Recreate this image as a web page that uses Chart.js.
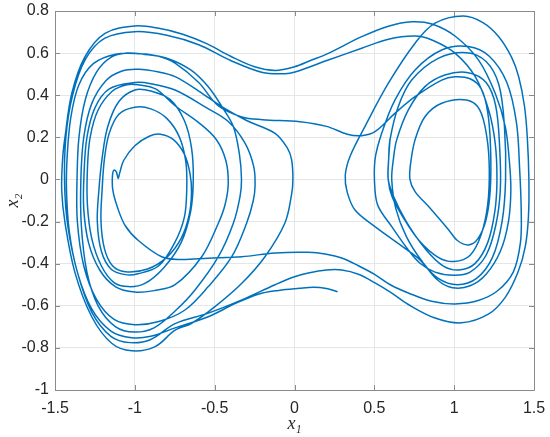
<!DOCTYPE html>
<html>
<head>
<meta charset="utf-8">
<script src="https://cdn.jsdelivr.net/npm/chart.js@4.4.1/dist/chart.umd.min.js"></script>
<style>
  html, body { margin: 0; padding: 0; background: #fff; }
  #wrap { width: 550px; height: 437px; }
</style>
</head>
<body>
<div id="wrap"><canvas id="phase"></canvas></div>
<script>
// phase portrait x1 / x2, in trajectory order
let xTicks = [-1.5, -1, -0.5, 0, 0.5, 1, 1.5];
let yTicks = [-1, -0.8, -0.6, -0.4, -0.2, 0, 0.2, 0.4, 0.6, 0.8];

// start of the curve (0.27,-0.53), first swing round the left well
let startTail = [[0.27,-0.533],[0.2,-0.518],[0.12,-0.512],[0.03,-0.517],[-0.1,-0.527],[-0.227,-0.545],[-0.373,-0.59],[-0.54,-0.652],[-0.748,-0.705],[-0.9,-0.745],[-1.02,-0.752],[-1.15,-0.72],[-1.27,-0.615],[-1.36,-0.44],[-1.41,-0.25],[-1.428,-0.05],[-1.423,0.12],[-1.4,0.3],[-1.35,0.45],[-1.26,0.55],[-1.12,0.595],[-0.967,0.597]];
// crossing to the right well at x2 ~ 0.28
let midBand = [[-0.85,0.585],[-0.748,0.552],[-0.6,0.46],[-0.478,0.35],[-0.33,0.297],[-0.2,0.284],[0.034,0.274],[0.2,0.252],[0.33,0.215],[0.42,0.208],[0.504,0.227],[0.629,0.314],[0.755,0.393],[0.922,0.472],[1.005,0.488]];
// loops in the right well
let rightSpiral = [[1.1,0.478],[1.17,0.43],[1.21,0.32],[1.228,0.15],[1.226,-0.05],[1.2,-0.19],[1.15,-0.28],[1.09,-0.311],[1.02,-0.29],[0.966,-0.24],[0.84,-0.129],[0.755,-0.058],[0.723,0.0],[0.728,0.08],[0.755,0.188],[0.817,0.298],[0.922,0.362],[1.078,0.377],[1.16,0.33],[1.205,0.2],[1.22,0.05],[1.21,-0.12],[1.17,-0.26],[1.1,-0.36],[1.0,-0.39],[0.9,-0.37],[0.78,-0.29],[0.68,-0.18],[0.61,-0.08],[0.587,0.0],[0.59,0.1],[0.598,0.188],[0.65,0.346],[0.734,0.472],[0.9,0.575],[1.078,0.602],[1.2,0.56],[1.28,0.45],[1.315,0.25],[1.322,0.0],[1.3,-0.2],[1.24,-0.37],[1.14,-0.47],[1.02,-0.5],[0.9,-0.47],[0.8,-0.39],[0.7,-0.27],[0.635,-0.14],[0.609,0.0],[0.62,0.1],[0.64,0.188],[0.713,0.33],[0.817,0.441],[0.942,0.496],[1.088,0.507],[1.2,0.46],[1.26,0.35],[1.285,0.15],[1.289,-0.05],[1.26,-0.22],[1.2,-0.36],[1.1,-0.44],[1.0,-0.455],[0.88,-0.44],[0.786,-0.398],[0.713,-0.335],[0.609,-0.224],[0.525,-0.129],[0.504,-0.05],[0.504,0.093],[0.546,0.219],[0.629,0.377],[0.755,0.52],[0.922,0.615],[1.088,0.631],[1.22,0.585],[1.33,0.46],[1.39,0.27],[1.41,0.05],[1.42,-0.15],[1.415,-0.3],[1.37,-0.44],[1.27,-0.53],[1.15,-0.575],[1.005,-0.591]];
// back to the left along x2 ~ -0.36, small hook near (-1.1, 0)
let returnLow = [[0.859,-0.578],[0.713,-0.539],[0.6,-0.5],[0.504,-0.452],[0.4,-0.41],[0.296,-0.373],[0.2,-0.355],[0.086,-0.346],[-0.122,-0.349],[-0.33,-0.367],[-0.54,-0.374],[-0.72,-0.38],[-0.832,-0.367],[-0.978,-0.29],[-1.06,-0.22],[-1.11,-0.13],[-1.138,-0.05],[-1.14,0.02],[-1.13,0.045],[-1.115,0.035],[-1.105,0.005]];
// growing loops in the left well
let leftSpiral = [[-1.095,0.03],[-1.07,0.09],[-1.0,0.16],[-0.91,0.205],[-0.84,0.215],[-0.76,0.19],[-0.69,0.12],[-0.655,0.03],[-0.645,-0.06],[-0.66,-0.17],[-0.71,-0.28],[-0.8,-0.37],[-0.92,-0.425],[-1.06,-0.438],[-1.14,-0.41],[-1.19,-0.33],[-1.212,-0.2],[-1.205,-0.05],[-1.19,0.1],[-1.16,0.22],[-1.1,0.31],[-1.0,0.343],
  [-0.9,0.335],[-0.8,0.29],[-0.72,0.2],[-0.68,0.08],[-0.675,-0.05],[-0.69,-0.18],[-0.75,-0.3],[-0.85,-0.41],[-0.98,-0.448],[-1.06,-0.452],[-1.15,-0.425],[-1.21,-0.34],[-1.235,-0.2],[-1.225,-0.05],[-1.205,0.1],[-1.17,0.25],[-1.1,0.37],[-1.0,0.425],
  [-0.9,0.42],[-0.78,0.38],[-0.69,0.28],[-0.645,0.15],[-0.634,0.0],[-0.65,-0.15],[-0.71,-0.3],[-0.82,-0.42],[-0.94,-0.495],[-1.04,-0.509],[-1.13,-0.49],[-1.21,-0.41],[-1.27,-0.28],[-1.297,-0.12],[-1.297,0.05],[-1.28,0.2],[-1.23,0.33],[-1.14,0.42],[-1.05,0.45],[-0.98,0.45],
  [-0.87,0.43],[-0.748,0.35],[-0.6,0.27],[-0.49,0.19],[-0.43,0.09],[-0.415,-0.02],[-0.435,-0.12],[-0.477,-0.208],[-0.581,-0.367],[-0.748,-0.5],[-0.88,-0.528],[-1.0,-0.535],[-1.12,-0.51],[-1.22,-0.43],[-1.29,-0.3],[-1.32,-0.14],[-1.318,0.03],[-1.3,0.2],[-1.25,0.34],[-1.16,0.43],[-1.0,0.46],
  [-0.9,0.455],[-0.748,0.425],[-0.55,0.34],[-0.415,0.275],[-0.31,0.172],[-0.255,0.06],[-0.247,-0.03],[-0.258,-0.1],[-0.3,-0.208],[-0.393,-0.367],[-0.54,-0.509],[-0.686,-0.62],[-0.85,-0.675],[-1.0,-0.69],[-1.13,-0.665],[-1.24,-0.57],[-1.32,-0.41],[-1.36,-0.2],[-1.362,0.0],[-1.35,0.2],[-1.31,0.38],[-1.24,0.51],[-1.15,0.58],[-1.05,0.6],
  [-0.95,0.595],[-0.8,0.576],[-0.65,0.52],[-0.54,0.44],[-0.45,0.34],[-0.383,0.251],[-0.345,0.12],[-0.332,0.0],[-0.341,-0.08],[-0.383,-0.208],[-0.477,-0.367],[-0.623,-0.525],[-0.748,-0.625],[-0.88,-0.705],[-1.0,-0.725],[-1.12,-0.7],[-1.23,-0.6],[-1.3,-0.44],[-1.335,-0.22],[-1.338,0.0],[-1.32,0.2],[-1.27,0.36],[-1.18,0.47],[-1.08,0.515],[-0.978,0.523],
  [-0.85,0.51],[-0.748,0.488],[-0.6,0.42],[-0.456,0.346],[-0.3,0.28],[-0.122,0.219],[-0.045,0.15],[-0.018,0.093],[-0.01,0.0],[-0.018,-0.07],[-0.06,-0.207],[-0.185,-0.367],[-0.33,-0.493],[-0.498,-0.604],[-0.644,-0.683],[-0.748,-0.716],[-0.873,-0.794],[-1.019,-0.814],[-1.145,-0.778],[-1.27,-0.652],[-1.374,-0.445],[-1.437,-0.208],[-1.458,-0.05],[-1.452,0.1],[-1.437,0.203],[-1.395,0.409],[-1.312,0.583],[-1.187,0.694],[-0.999,0.729]];
// upper crossing to the right, then the widest right loop
let highBand = [[-0.85,0.718],[-0.7,0.69],[-0.55,0.645],[-0.4,0.585],[-0.25,0.535],[-0.12,0.518],[0.0,0.535],[0.1,0.565],[0.212,0.599],[0.421,0.678],[0.588,0.728],[0.736,0.749],[0.861,0.738],[1.007,0.68],[1.153,0.567],[1.257,0.409],[1.32,0.251],[1.345,0.093],[1.355,-0.05],[1.34,-0.2],[1.29,-0.34],[1.2,-0.45],[1.1,-0.505],[0.99,-0.514],[0.9,-0.48],[0.786,-0.382],[0.692,-0.327],[0.504,-0.224],[0.379,-0.145],[0.33,-0.06],[0.318,0.02],[0.347,0.108],[0.441,0.251],[0.588,0.457],[0.755,0.647],[0.88,0.742],[1.057,0.776],[1.18,0.745],[1.279,0.678],[1.36,0.58],[1.404,0.488],[1.44,0.35],[1.458,0.2],[1.468,0.0],[1.465,-0.18],[1.445,-0.32],[1.4,-0.44],[1.32,-0.56],[1.214,-0.64],[1.047,-0.681]];
// second return along the bottom, outer left loop, second upper crossing
let returnMid = [[0.88,-0.658],[0.713,-0.594],[0.6,-0.535],[0.504,-0.491],[0.4,-0.45],[0.296,-0.43],[0.2,-0.43],[0.086,-0.444],[0.0,-0.462],[-0.122,-0.5],[-0.33,-0.572],[-0.54,-0.635],[-0.748,-0.685],[-0.9,-0.76],[-1.03,-0.775],[-1.15,-0.745],[-1.27,-0.63],[-1.36,-0.44],[-1.42,-0.22],[-1.44,-0.02],[-1.432,0.2],[-1.39,0.4],[-1.31,0.57],[-1.19,0.67],[-1.0,0.702]];
let lowerBand = [[-0.8,0.685],[-0.6,0.64],[-0.4,0.565],[-0.2,0.508],[-0.06,0.502],[0.003,0.51],[0.212,0.567],[0.421,0.623],[0.588,0.666],[0.755,0.681],[0.861,0.662],[1.007,0.599],[1.132,0.488],[1.216,0.33],[1.257,0.172],[1.268,0.0],[1.255,-0.15],[1.21,-0.3],[1.13,-0.4],[1.03,-0.43],[0.93,-0.41],[0.82,-0.33],[0.7,-0.2],[0.62,-0.08],[0.587,0.0],[0.59,0.1],[0.598,0.188]];

let trajectory = [].concat(startTail, midBand, rightSpiral, returnLow, leftSpiral, highBand, returnMid, lowerBand);

// matlab-like box with inward ticks
const boxPlugin = {
  id: 'box',
  afterDatasetsDraw(chart) {
    const {ctx, chartArea: a, scales} = chart;
    ctx.save();
    ctx.strokeStyle = '#8a8a8a';
    ctx.lineWidth = 1;
    ctx.beginPath();
    ctx.rect(Math.round(a.left) + 0.5, Math.round(a.top) + 0.5, Math.round(a.right - a.left), Math.round(a.bottom - a.top));
    xTicks.forEach(v => {
      let p = Math.round(scales.x.getPixelForValue(v)) + 0.5;
      ctx.moveTo(p, a.bottom); ctx.lineTo(p, a.bottom - 5);
      ctx.moveTo(p, a.top); ctx.lineTo(p, a.top + 5);
    });
    yTicks.forEach(v => {
      let p = Math.round(scales.y.getPixelForValue(v)) + 0.5;
      ctx.moveTo(a.left, p); ctx.lineTo(a.left + 5, p);
      ctx.moveTo(a.right, p); ctx.lineTo(a.right - 5, p);
    });
    ctx.stroke();
    ctx.restore();
  }
};

const fmt = v => String(Math.round(v * 10) / 10);
// keep the plot box where the figure has it (labels may overhang)
const noPad = s => { s.paddingLeft = 0; s.paddingRight = 0; s.paddingTop = 0; s.paddingBottom = 0; };

var ctx = document.getElementById('phase').getContext('2d');
var phaseChart = new Chart(ctx, {
  type: 'scatter',
  data: {
    datasets: [{
      data: trajectory.map(p => ({x: p[0], y: p[1]})),
      showLine: true,
      fill: false,
      pointRadius: 0,
      borderColor: '#0072bd',
      borderWidth: 1.5,
      tension: 0.35
    }]
  },
  options: {
    responsive: true,
    maintainAspectRatio: false,
    animation: false,
    layout: { padding: { top: 11, right: 16, left: 0, bottom: 0 } },
    plugins: { legend: { display: false }, tooltip: { enabled: false } },
    scales: {
      x: {
        min: -1.5, max: 1.5,
        afterBuildTicks: s => { s.ticks = xTicks.map(v => ({value: v})); },
        afterFit: s => { s.height = 47; noPad(s); },
        grid: { color: '#e6e6e6', drawTicks: false },
        border: { display: false },
        ticks: { padding: 9, color: '#262626', font: { family: 'Liberation Sans, Arial, sans-serif', size: 16 }, callback: fmt, maxRotation: 0 },
        title: { display: true, text: 'x₁', color: '#262626', padding: { top: 0, bottom: 2 },
          font: { family: 'Liberation Serif, DejaVu Serif, serif', style: 'italic', size: 18 } }
      },
      y: {
        min: -1, max: 0.8,
        afterBuildTicks: s => { s.ticks = yTicks.map(v => ({value: v})); },
        afterFit: s => { s.width = 55; noPad(s); },
        grid: { color: '#e6e6e6', drawTicks: false },
        border: { display: false },
        ticks: { padding: 6, color: '#262626', font: { family: 'Liberation Sans, Arial, sans-serif', size: 16 }, callback: fmt },
        title: { display: true, text: 'x₂', color: '#262626', padding: { top: 2, bottom: 0 },
          font: { family: 'Liberation Serif, DejaVu Serif, serif', style: 'italic', size: 18 } }
      }
    }
  },
  plugins: [boxPlugin]
});
</script>
</body>
</html>
